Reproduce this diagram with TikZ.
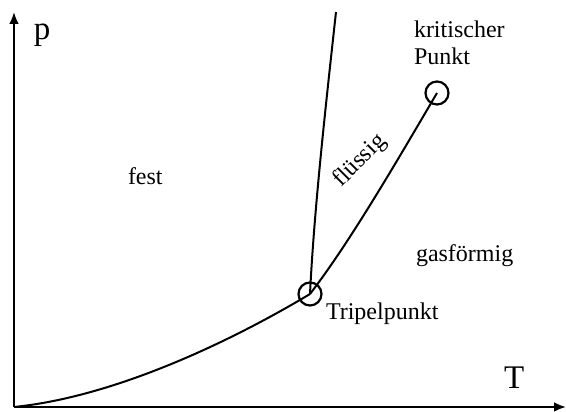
\documentclass[tikz,border=0pt]{standalone}
\usepackage{fontspec}
\setmainfont{Liberation Serif}
\usetikzlibrary{arrows.meta}
\begin{document}
\begin{tikzpicture}[x=1pt,y=1pt,line width=2pt,
    lbl/.style={font=\fontsize{24}{27}\selectfont,inner sep=0pt},
    axlbl/.style={font=\fontsize{33}{36}\selectfont,inner sep=0pt},
    pkt/.style={circle,draw,line width=2.2pt,minimum size=23pt,inner sep=0pt}]
    \useasboundingbox (0,0) rectangle (566,412);
    % axes
    \coordinate (o) at (14,5);
    \coordinate (pmax) at (14,400);
    \coordinate (tmax) at (566,5);
    \draw[line width=2.5pt,-{Latex[length=12pt,width=10pt]}] (o) -- (pmax);
    \draw[line width=2.5pt,-{Latex[length=12pt,width=10pt]}] (o) -- (tmax);
    \node[axlbl,anchor=base west] (p) at (33,372) {p};
    \node[axlbl,anchor=base west] (T) at (503,23) {T};
    % points
    \node[pkt] (tp) at (310,118) {};
    \node[pkt] (kp) at (437,319) {};
    % curves
    \coordinate (top) at (336,400);
    \draw (o) .. controls (114,15) and (230,70) .. (tp.center);
    \draw (tp.center) .. controls (350,170) and (397,251) .. (kp.center);
    \draw (tp.center) .. controls (314,200) and (325,300) .. (top);
    % labels
    \node[lbl,anchor=base west] (fest) at (127,227) {fest};
    \node[lbl,rotate=45] (fl) at (360,251) {flüssig};
    \node[lbl,anchor=base west] (gas) at (415,150) {gasförmig};
    \node[lbl,anchor=base west] (tpl) at (325,92) {Tripelpunkt};
    \node[lbl,anchor=north west,align=left] (kpl) at (413,392) {kritischer\\Punkt};
\end{tikzpicture}
\end{document}
